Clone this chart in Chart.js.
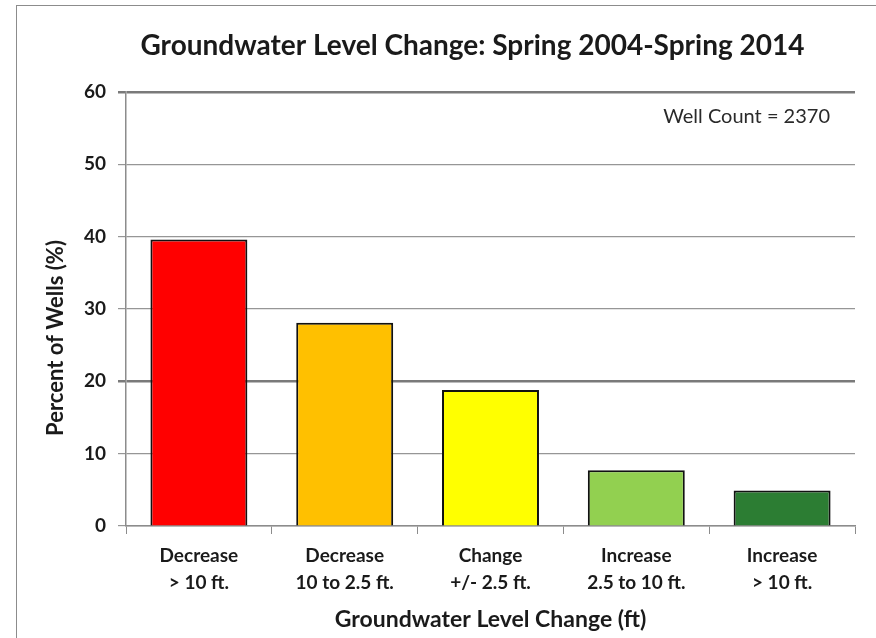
<!DOCTYPE html>
<html lang="en">
<head>
    <meta charset="UTF-8">
    <title>Groundwater Level Change</title>
    <script src="https://cdn.jsdelivr.net/npm/chart.js"></script>
    <style>
        html, body { margin: 0; padding: 0; background: #fff; overflow: hidden; }
        #frame { position: absolute; left: 16px; top: 5px; width: 900px; height: 700px; border: 1px solid #8c8c8c; }
        #wrap { position: absolute; left: 0; top: 0; width: 876px; height: 638px; }
    </style>
</head>
<body>
    <div id="frame"></div>
    <div id="wrap"><canvas id="gwChart" width="876" height="638"></canvas></div>

    <script>
        // values
        const categories = [
            ['Decrease', '> 10 ft.'],
            ['Decrease', '10 to 2.5 ft.'],
            ['Change', '+/- 2.5 ft.'],
            ['Increase', '2.5 to 10 ft.'],
            ['Increase', '> 10 ft.']
        ];
        const percentWells = [39.6, 28.1, 18.8, 7.7, 4.9];
        const barColors = ['#ff0000', '#ffc000', '#ffff00', '#92d050', '#2c7d33'];
        const yMin = 0, yMax = 60, yStep = 10;

        const chartTitle = 'Groundwater Level Change: Spring 2004-Spring 2014';
        const yTitle = 'Percent of Wells (%)';
        const xTitle = 'Groundwater Level Change (ft)';
        const noteText = 'Well Count = 2370';

        const fontFamily = 'Lato, "Open Sans", sans-serif';

        // title, rotated y title and the well count note
        const extraText = {
            id: 'extraText',
            afterDraw(chart) {
                const ctx = chart.ctx;
                const area = chart.chartArea;
                ctx.save();
                ctx.fillStyle = '#1a1a1a';
                ctx.textAlign = 'center';
                ctx.textBaseline = 'middle';
                ctx.font = 'bold 28px ' + fontFamily;
                ctx.fillText(chartTitle, (area.left + area.right) / 2 - 18, 46);

                ctx.font = '20px ' + fontFamily;
                ctx.textAlign = 'right';
                ctx.fillStyle = '#2a2a2a';
                ctx.fillText(noteText, area.right - 25, 117);

                ctx.translate(56, 338);
                ctx.rotate(-Math.PI / 2);
                ctx.textAlign = 'center';
                ctx.fillStyle = '#1a1a1a';
                ctx.font = 'bold 22px ' + fontFamily;
                ctx.fillText(yTitle, 0, 0);
                ctx.restore();
            }
        };

        new Chart(document.getElementById('gwChart').getContext('2d'), {
            type: 'bar',
            data: {
                labels: categories,
                datasets: [{
                    data: percentWells,
                    backgroundColor: barColors,
                    borderColor: '#111',
                    borderWidth: 2,
                    barPercentage: 0.665,
                    categoryPercentage: 1
                }]
            },
            options: {
                responsive: false,
                animation: false,
                layout: { padding: { top: 92, right: 21, left: 0, bottom: 0 } },
                plugins: {
                    legend: { display: false },
                    tooltip: { enabled: false }
                },
                scales: {
                    x: {
                        offset: true,
                        afterFit: s => { s.height = 112; },
                        grid: {
                            offset: true,
                            drawOnChartArea: false,
                            tickLength: 8,
                            color: '#8c8c8c'
                        },
                        border: { color: '#8c8c8c', width: 1.5 },
                        ticks: {
                            color: '#1a1a1a',
                            padding: 9,
                            maxRotation: 0,
                            font: { family: fontFamily, size: 19, weight: 'bold', lineHeight: 1.4 }
                        },
                        title: {
                            display: true,
                            text: xTitle,
                            color: '#1a1a1a',
                            padding: { top: 0, bottom: 5 },
                            font: { family: fontFamily, size: 23, weight: 'bold' }
                        }
                    },
                    y: {
                        min: yMin,
                        max: yMax,
                        afterFit: s => { s.width = 126; },
                        grid: {
                            tickLength: 8,
                            color: ctx => (ctx.tick && (ctx.tick.value === 60 || ctx.tick.value === 20)) ? '#7a7a7a' : '#969696',
                            lineWidth: ctx => (ctx.tick && (ctx.tick.value === 60 || ctx.tick.value === 20)) ? 2.5 : 1.2
                        },
                        border: { color: '#8c8c8c', width: 1.5 },
                        ticks: {
                            stepSize: yStep,
                            color: '#1a1a1a',
                            padding: 12,
                            font: { family: fontFamily, size: 19, weight: 'bold' }
                        }
                    }
                }
            },
            plugins: [extraText]
        });
    </script>
</body>
</html>
